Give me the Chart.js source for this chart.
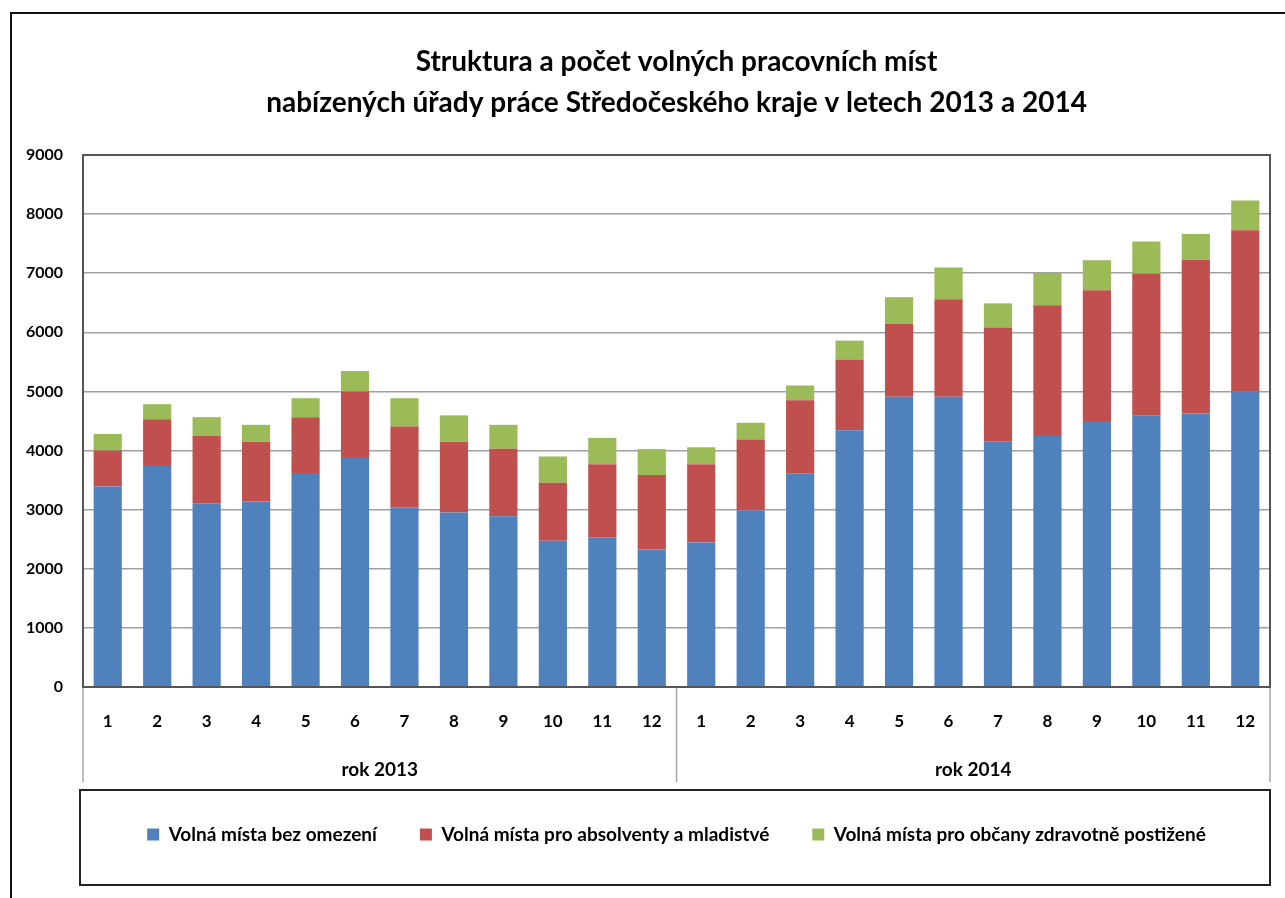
<!DOCTYPE html>
<html>
<head>
<meta charset="utf-8">
<script src="https://cdn.jsdelivr.net/npm/chart.js@4.4.1/dist/chart.umd.min.js"></script>
<style>
  html, body { margin: 0; padding: 0; background: #fff; overflow: hidden; }
  #frame { position: absolute; left: 10px; top: 12px; width: 1290px; height: 900px; border: 2px solid #111; }
  #wrap { position: absolute; left: 0; top: 0; width: 1285px; height: 898px; }
</style>
</head>
<body>
<div id="frame"></div>
<div id="wrap"><canvas id="chart" width="1285" height="898"></canvas></div>
<script>
const months = ["1","2","3","4","5","6","7","8","9","10","11","12",
                "1","2","3","4","5","6","7","8","9","10","11","12"];
const years = ["rok 2013", "rok 2014"];

const bezOmezeni = [3390,3740,3110,3140,3620,3875,3040,2950,2890,2475,2535,2325,
                    2445,2985,3615,4345,4910,4910,4150,4245,4500,4590,4625,5005];
const absolventi = [610,790,1140,1010,945,1125,1365,1200,1140,980,1235,1260,
                    1325,1200,1235,1195,1235,1650,1930,2215,2210,2405,2600,2720];
const postizeni  = [280,255,315,285,320,345,480,445,405,445,445,440,
                    285,285,250,320,450,535,410,545,510,540,440,505];

const FONT = "Lato, 'Liberation Sans', sans-serif";

// year labels, separators, plot border and legend frame
const extras = {
    id: "extras",
    afterDraw(chart) {
        const ctx = chart.ctx;
        const a = chart.chartArea;
        const x = chart.scales.x;
        const bottom = x.bottom;
        const mid = (x.getPixelForValue(11) + x.getPixelForValue(12)) / 2;

        ctx.save();
        ctx.strokeStyle = "#a6a6a6";
        ctx.lineWidth = 1.5;
        [a.left, mid, a.right].forEach(px => {
            ctx.beginPath();
            ctx.moveTo(px, a.bottom);
            ctx.lineTo(px, bottom);
            ctx.stroke();
        });

        ctx.strokeStyle = "#555";
        ctx.lineWidth = 2;
        ctx.strokeRect(a.left, a.top, a.right - a.left, a.bottom - a.top);

        ctx.fillStyle = "#000";
        ctx.font = "bold 19px " + FONT;
        ctx.textAlign = "center";
        ctx.textBaseline = "middle";
        ctx.fillText(years[0], (a.left + mid) / 2, a.bottom + 83);
        ctx.fillText(years[1], (mid + a.right) / 2, a.bottom + 83);

        ctx.strokeStyle = "#222";
        ctx.lineWidth = 2;
        ctx.strokeRect(a.left - 3, bottom + 8, a.right - a.left + 3, 95);
        ctx.restore();
    }
};

new Chart(document.getElementById("chart"), {

    type: "bar",

    data: {

        labels: months,

        datasets: [{
            label: "Volná místa bez omezení",
            data: bezOmezeni,
            backgroundColor: "#4F81BD"
        }, {
            label: "Volná místa pro absolventy a mladistvé",
            data: absolventi,
            backgroundColor: "#C0504D"
        }, {
            label: "Volná místa pro občany zdravotně postižené",
            data: postizeni,
            backgroundColor: "#9BBB59"
        }]

    },

    options: {

        responsive: false,
        animation: false,
        layout: {
            padding: { left: 0, right: 15, top: 0, bottom: 44 }
        },

        datasets: {
            bar: { categoryPercentage: 1, barPercentage: 0.57 }
        },

        scales: {
            x: {
                stacked: true,
                grid: { display: false, drawTicks: false },
                border: { display: false },
                ticks: {
                    color: "#000",
                    padding: 24,
                    maxRotation: 0,
                    autoSkip: false,
                    font: { family: FONT, size: 17, weight: "bold" }
                },
                afterFit: s => { s.height = 95; }
            },
            y: {
                stacked: true,
                min: 0,
                max: 9000,
                grid: { color: "#a0a0a0", lineWidth: 1.5, drawTicks: false },
                border: { display: false },
                ticks: {
                    stepSize: 1000,
                    color: "#000",
                    padding: 20,
                    font: { family: FONT, size: 16, weight: "bold" },
                    callback: v => String(v)
                },
                afterFit: s => { s.width = 83; }
            }
        },

        plugins: {
            title: {
                display: true,
                fullSize: false,
                text: ["Struktura a počet volných pracovních míst",
                       "nabízených úřady práce Středočeského kraje v letech 2013 a 2014"],
                color: "#000",
                font: { family: FONT, size: 28, weight: "bold", lineHeight: "41px" },
                padding: { top: 41, bottom: 32 }
            },
            legend: {
                position: "bottom",
                fullSize: false,
                labels: {
                    color: "#000",
                    boxWidth: 12,
                    boxHeight: 12,
                    padding: 43,
                    font: { family: FONT, size: 19, weight: "bold" }
                }
            },
            tooltip: { enabled: false }
        }

    },

    plugins: [extras]

});
</script>
</body>
</html>
